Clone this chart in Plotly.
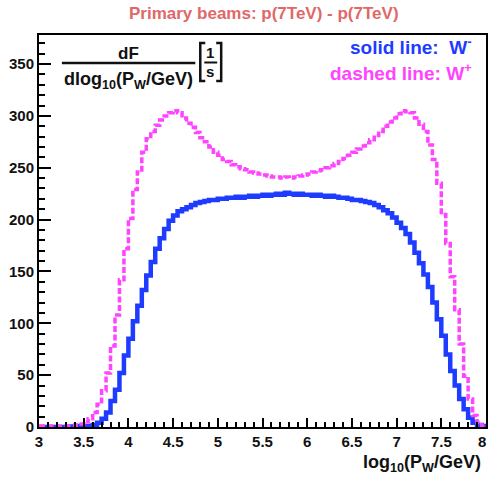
import numpy as np
import plotly.graph_objects as go

# ---- data: 100 bins of width 0.05 from 3.0 to 8.0 ----
bin_start = 3.0
bin_width = 0.05

w_minus = [0, 0, 0, 0, 0, 0, 0, 0.5, 0.5, 1,
           1, 1, 2, 4, 8, 14, 25, 36, 52, 69,
           85, 102, 117, 132, 146, 159, 172, 182, 191, 199,
           204, 208, 210, 212, 214, 216, 217, 218, 219, 219,
           220, 220, 221, 221, 222, 221, 222, 223, 222, 223,
           224, 223, 224, 225, 224, 226, 225, 224, 225, 224,
           224, 223, 224, 223, 222, 223, 222, 221, 221, 220,
           219, 219, 218, 217, 216, 214, 212, 209, 206, 202,
           197, 192, 186, 178, 168, 158, 147, 135, 120, 104,
           88, 70, 54, 40, 27, 17, 9, 4, 2, 1]

w_plus = [1, 1, 1, 1, 1, 1, 1, 1, 2, 3,
          5, 8, 14, 22, 35, 52, 78, 108, 142, 172,
          201, 229, 246, 265, 278, 285, 291, 296, 300, 303,
          305, 303, 298, 293, 289, 284, 279, 275, 270, 265,
          262, 258, 256, 253, 251, 249, 248, 246, 245, 244,
          243, 242, 241, 241, 240, 241, 240, 241, 242, 243,
          244, 246, 247, 248, 250, 252, 254, 256, 259, 262,
          265, 268, 271, 274, 277, 281, 285, 290, 294, 298,
          302, 305, 304, 303, 298, 292, 285, 272, 258, 235,
          205, 177, 145, 113, 80, 49, 27, 11, 4, 1]

x_ticks = [3, 3.5, 4, 4.5, 5, 5.5, 6, 6.5, 7, 7.5, 8]
x_ticktext = ["3", "3.5", "4", "4.5", "5", "5.5", "6", "6.5", "7", "7.5", ""]
x_last_label = "8"
y_ticks = [0, 50, 100, 150, 200, 250, 300, 350]

title_text = "Primary beams: p(7TeV) - p(7TeV)"
leg_minus = "solid line:  W<sup>-</sup>"
leg_plus = "dashed line: W<sup>+</sup>"
x_title = "log<sub>10</sub>(P<sub>W</sub>/GeV)"
num_text = "dF"
den_text = "dlog<sub>10</sub>(P<sub>W</sub>/GeV)"

BLUE = "#1e3cff"
PINK = "#ff44ff"
FONT = "Liberation Sans, Arial, sans-serif"

W, H = 490, 477
L, R, T, B = 39, 2, 35, 50
pw, ph = W - L - R, H - T - B


def px(xp):
    return (xp - L) / pw


def py(yp):
    return (H - B - yp) / ph


def step_xy(vals):
    n = len(vals)
    edges = bin_start + bin_width * np.arange(n + 1)
    return edges, list(vals) + [vals[-1]]


fig = go.Figure()
ex, ey = step_xy(w_minus)
fig.add_trace(go.Scatter(x=ex, y=ey, mode="lines", line_shape="hv",
                         line=dict(color=BLUE, width=4.5), showlegend=False))
ex, ey = step_xy(w_plus)
fig.add_trace(go.Scatter(x=ex, y=ey, mode="lines", line_shape="hv",
                         line=dict(color=PINK, width=3.5, dash="6px,2.5px"),
                         showlegend=False))

TICKFONT = dict(family=FONT, size=15, color="#111", weight="bold")
axis_common = dict(showline=True, linewidth=2, linecolor="black", mirror=True,
                   showgrid=False, zeroline=False, ticks="inside",
                   tickcolor="black", tickwidth=1.5, tickfont=TICKFONT)

fig.update_xaxes(range=[3, 8], tickmode="array", tickvals=x_ticks,
                 ticktext=x_ticktext, ticklen=9,
                 minor=dict(ticks="inside", dtick=0.1, ticklen=5,
                            tickcolor="black", tickwidth=1.5),
                 **axis_common)
fig.update_yaxes(range=[0, 378], tickmode="array", tickvals=y_ticks,
                 ticklen=12,
                 minor=dict(ticks="inside", dtick=10, ticklen=6,
                            tickcolor="black", tickwidth=1.5),
                 **axis_common)

ann = []
ann.append(dict(text=title_text, x=px(265), y=py(13), xref="paper",
                yref="paper", xanchor="center", yanchor="middle",
                showarrow=False,
                font=dict(family=FONT, size=17, color="#e06868", weight="bold")))
# last x tick label, kept inside the window
ann.append(dict(text=x_last_label, x=px(484), y=py(441), xref="paper",
                yref="paper", xanchor="center", yanchor="middle",
                showarrow=False, font=TICKFONT))
# legend texts
ann.append(dict(text=leg_minus, x=px(476), y=py(46), xref="paper", yref="paper",
                xanchor="right", yanchor="middle", showarrow=False,
                font=dict(family=FONT, size=19, color=BLUE, weight="bold")))
ann.append(dict(text=leg_plus, x=px(476), y=py(72), xref="paper", yref="paper",
                xanchor="right", yanchor="middle", showarrow=False,
                font=dict(family=FONT, size=19, color=PINK, weight="bold")))
# axis title
ann.append(dict(text=x_title, x=px(485), y=py(463), xref="paper", yref="paper",
                xanchor="right", yanchor="middle", showarrow=False,
                font=dict(family=FONT, size=18, color="#111", weight="bold")))
# formula
ann.append(dict(text=num_text, x=px(129), y=py(53), xref="paper", yref="paper",
                xanchor="center", yanchor="middle", showarrow=False,
                font=dict(family=FONT, size=17, color="#111", weight="bold")))
ann.append(dict(text=den_text, x=px(129), y=py(80), xref="paper", yref="paper",
                xanchor="center", yanchor="middle", showarrow=False,
                font=dict(family=FONT, size=18, color="#111", weight="bold")))
ann.append(dict(text="1", x=px(211), y=py(52), xref="paper", yref="paper",
                xanchor="center", yanchor="middle", showarrow=False,
                font=dict(family=FONT, size=15, color="#111", weight="bold")))
ann.append(dict(text="s", x=px(211), y=py(72), xref="paper", yref="paper",
                xanchor="center", yanchor="middle", showarrow=False,
                font=dict(family=FONT, size=15, color="#111", weight="bold")))

shapes = []
shapes.append(dict(type="line", xref="paper", yref="paper",
                   x0=px(62), x1=px(196), y0=py(63), y1=py(63),
                   line=dict(color="#111", width=2.5)))
shapes.append(dict(type="line", xref="paper", yref="paper",
                   x0=px(205), x1=px(218), y0=py(62.5), y1=py(62.5),
                   line=dict(color="#111", width=2)))
shapes.append(dict(type="path", xref="paper", yref="paper",
                   path=f"M {px(206)} {py(43)} L {px(201)} {py(43)} L {px(201)} {py(81)} L {px(206)} {py(81)}",
                   line=dict(color="#111", width=2.5)))
shapes.append(dict(type="path", xref="paper", yref="paper",
                   path=f"M {px(217)} {py(43)} L {px(222)} {py(43)} L {px(222)} {py(81)} L {px(217)} {py(81)}",
                   line=dict(color="#111", width=2.5)))

fig.update_layout(width=W, height=H, margin=dict(l=L, r=R, t=T, b=B),
                  paper_bgcolor="white", plot_bgcolor="white",
                  annotations=ann, shapes=shapes, showlegend=False)

fig.write_html("out.html")
